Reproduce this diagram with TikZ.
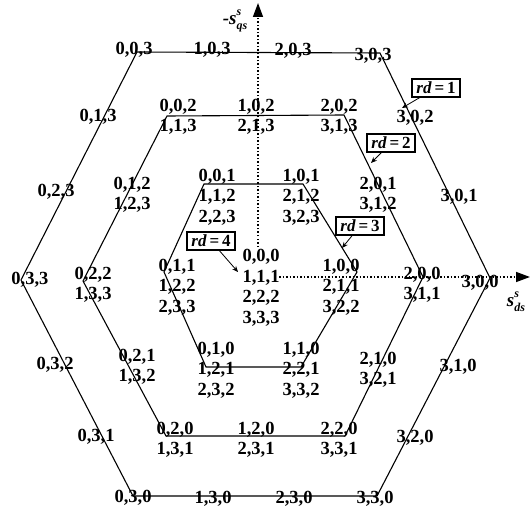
\documentclass[tikz,border=0pt]{standalone}
\usepackage{fontspec}
\setmainfont{Liberation Serif}
\usetikzlibrary{arrows.meta}
\newcommand{\labfont}{\fontsize{18.5}{20.5}\selectfont\bfseries}
\newcommand{\rdfont}{\fontsize{17}{17}\selectfont\bfseries}
\newcommand{\axfont}{\fontsize{19}{19}\selectfont\bfseries\itshape}
\newcommand{\axsmall}{\fontsize{12}{12}\selectfont\bfseries\itshape}
\begin{document}
\begin{tikzpicture}[x=1pt,y=-1pt,
  lab/.style={font=\labfont, inner sep=0pt, align=center},
  hexline/.style={line width=1.1pt, line join=miter},
  axis/.style={line width=1.5pt, dash pattern=on 1.5pt off 2pt, -{Triangle[length=14pt,width=10pt]}},
  rdbox/.style={draw, line width=1.2pt, font=\rdfont, inner sep=1pt, minimum width=48pt, minimum height=18pt},
  rdarrow/.style={line width=0.8pt, -{Stealth[length=6pt,width=5pt]}}]
\useasboundingbox (0,0) rectangle (530,513);

% hexagon corners
\coordinate (A1) at (137,52);  \coordinate (A2) at (380,53);
\coordinate (A3) at (490,278); \coordinate (A4) at (377,496);
\coordinate (A5) at (133,496); \coordinate (A6) at (21,280);
\coordinate (B1) at (167,116); \coordinate (B2) at (344,115);
\coordinate (B3) at (423,277); \coordinate (B4) at (345,436);
\coordinate (B5) at (166,436); \coordinate (B6) at (83,281);
\coordinate (C1) at (204,184); \coordinate (C2) at (303,184);
\coordinate (C3) at (357,272); \coordinate (C4) at (301,367);
\coordinate (C5) at (206,367); \coordinate (C6) at (164,272);

\draw[hexline] (A1)--(A2)--(A3)--(A4)--(A5)--(A6)--cycle;
\draw[hexline] (B1)--(B2)--(B3)--(B4)--(B5)--(B6)--cycle;
\draw[hexline] (C1)--(C2)--(C3)--(C4)--(C5)--(C6)--cycle;

% axes
\coordinate (ybase) at (258,247); \coordinate (ytip) at (258,3);
\coordinate (xbase) at (279,277); \coordinate (xtip) at (530,277);
\draw[axis] (ybase) -- (ytip);
\draw[axis] (xbase) -- (xtip);
\node[inner sep=0pt, font=\axfont] (ylab) at (235,21)
  {-s\rlap{\raisebox{1.0ex}{\axsmall s}}\raisebox{-0.6ex}{\axsmall qs}};
\node[inner sep=0pt, font=\axfont] (xlab) at (516,302)
  {s\rlap{\raisebox{1.0ex}{\axsmall s}}\raisebox{-0.6ex}{\axsmall ds}};

% outer labels
\node[lab] (o003) at (134,50) {0,0,3};
\node[lab] (o103) at (212,50) {1,0,3};
\node[lab] (o203) at (293,51) {2,0,3};
\node[lab] (o303) at (373,56) {3,0,3};
\node[lab] (o302) at (415,118) {3,0,2};
\node[lab] (o301) at (459,197) {3,0,1};
\node[lab] (o300) at (480,283) {3,0,0};
\node[lab] (o310) at (458,367) {3,1,0};
\node[lab] (o320) at (415,438) {3,2,0};
\node[lab] (o330) at (375,499) {3,3,0};
\node[lab] (o230) at (294,499) {2,3,0};
\node[lab] (o130) at (213,499) {1,3,0};
\node[lab] (o030) at (133,498) {0,3,0};
\node[lab] (o031) at (96,437) {0,3,1};
\node[lab] (o032) at (55,365) {0,3,2};
\node[lab] (o033) at (30,280) {0,3,3};
\node[lab] (o023) at (56,192) {0,2,3};
\node[lab] (o013) at (98,117) {0,1,3};

% middle labels
\node[lab] (m002) at (178,117) {0,0,2\\1,1,3};
\node[lab] (m102) at (256,117) {1,0,2\\2,1,3};
\node[lab] (m202) at (339,117) {2,0,2\\3,1,3};
\node[lab] (m201) at (378,195) {2,0,1\\3,1,2};
\node[lab] (m200) at (422,285) {2,0,0\\3,1,1};
\node[lab] (m210) at (378,370) {2,1,0\\3,2,1};
\node[lab] (m220) at (339,440) {2,2,0\\3,3,1};
\node[lab] (m120) at (256,440) {1,2,0\\2,3,1};
\node[lab] (m020) at (175,440) {0,2,0\\1,3,1};
\node[lab] (m021) at (137,367) {0,2,1\\1,3,2};
\node[lab] (m022) at (93,285) {0,2,2\\1,3,3};
\node[lab] (m012) at (132,195) {0,1,2\\1,2,3};

% inner labels
\node[lab] (i001) at (217,197) {0,0,1\\1,1,2\\2,2,3};
\node[lab] (i101) at (301,197) {1,0,1\\2,1,2\\3,2,3};
\node[lab] (i100) at (341,287) {1,0,0\\2,1,1\\3,2,2};
\node[lab] (i110) at (301,370) {1,1,0\\2,2,1\\3,3,2};
\node[lab] (i010) at (216,370) {0,1,0\\1,2,1\\2,3,2};
\node[lab] (i011) at (177,287) {0,1,1\\1,2,2\\2,3,3};

% centre
\node[lab] (c000) at (261,288) {0,0,0\\1,1,1\\2,2,2\\3,3,3};

% rd boxes
\node[rdbox] (rd1) at (436,88) {\textit{rd}\,=\,1};
\node[rdbox] (rd2) at (391,143) {\textit{rd}\,=\,2};
\node[rdbox] (rd3) at (360,226) {\textit{rd}\,=\,3};
\node[rdbox] (rd4) at (211,241) {\textit{rd}\,=\,4};
\coordinate (t1) at (402,108);
\coordinate (t2) at (371,163);
\coordinate (t3) at (342,248);
\coordinate (t4) at (238,272);
\draw[rdarrow] (rd1) -- (t1);
\draw[rdarrow] (rd2) -- (t2);
\draw[rdarrow] (rd3) -- (t3);
\draw[rdarrow] (rd4) -- (t4);
\end{tikzpicture}
\end{document}
